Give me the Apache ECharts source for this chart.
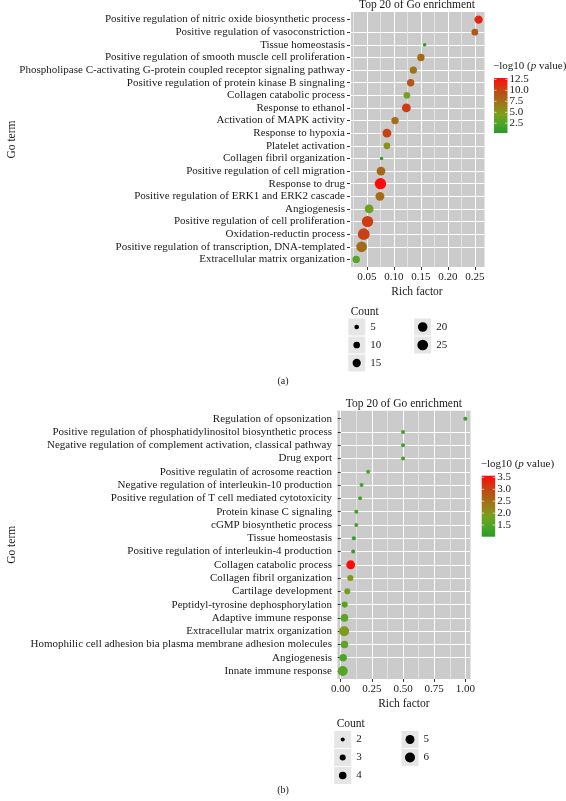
<!DOCTYPE html>
<html><head><meta charset="utf-8">
<script src="https://cdn.jsdelivr.net/npm/echarts@6/dist/echarts.min.js"></script>
<style>html,body{margin:0;padding:0;background:#fff}#c{width:566px;height:801px}</style>
</head><body><div id="c"></div>
<script>
// ---------- Panel (a) data ----------
const termsA = [
  "Positive regulation of nitric oxide biosynthetic process",
  "Positive regulation of vasoconstriction",
  "Tissue homeostasis",
  "Positive regulation of smooth muscle cell proliferation",
  "Phospholipase C-activating G-protein coupled receptor signaling pathway",
  "Positive regulation of protein kinase B singnaling",
  "Collagen catabolic process",
  "Response to ethanol",
  "Activation of MAPK activity",
  "Response to hypoxia",
  "Platelet activation",
  "Collagen fibril organization",
  "Positive regulation of cell migration",
  "Response to drug",
  "Positive regulation of ERK1 and ERK2 cascade",
  "Angiogenesis",
  "Positive regulation of cell proliferation",
  "Oxidation-reductin process",
  "Positive regulation of transcription, DNA-templated",
  "Extracellular matrix organization"
];
const richA  = [0.257,0.250,0.157,0.150,0.136,0.131,0.124,0.123,0.102,0.087,0.087,0.077,0.076,0.075,0.074,0.054,0.051,0.044,0.040,0.030];
const countA = [15,10,3,12,12,12,10,17,12,17,10,3,17,28,17,17,28,30,25,12];
const logpA  = [11.5,8.8,0.8,7.8,7.2,9.0,4.5,10.5,7.5,10.2,5.5,1.0,8.0,12.8,7.8,4.0,10.5,10.2,7.8,2.8];
const xTicksA = [0.05,0.10,0.15,0.20,0.25];
const countBreaksA = [5,10,15,20,25];
const colorBreaksA = [2.5,5.0,7.5,10.0,12.5];

// ---------- Panel (b) data ----------
const termsB = [
  "Regulation of opsonization",
  "Positive regulation of phosphatidylinositol biosynthetic process",
  "Negative regulation of complement activation, classical pathway",
  "Drug export",
  "Positive regulatin of acrosome reaction",
  "Negative regulation of interleukin-10 production",
  "Positive regulation of T cell mediated cytotoxicity",
  "Protein kinase C signaling",
  "cGMP biosynthetic process",
  "Tissue homeostasis",
  "Positive regulation of interleukin-4 production",
  "Collagen catabolic process",
  "Collagen fibril organization",
  "Cartilage development",
  "Peptidyl-tyrosine dephosphorylation",
  "Adaptive immune response",
  "Extracellular matrix organization",
  "Homophilic cell adhesion bia plasma membrane adhesion molecules",
  "Angiogenesis",
  "Innate immune response"
];
const richB  = [1.00,0.50,0.50,0.50,0.22,0.167,0.155,0.125,0.125,0.105,0.10,0.08,0.077,0.053,0.032,0.03,0.027,0.03,0.019,0.016];
const countB = [2,2,2,2,2,2,2,2,2,2,2,5,3,3,3,4,6,4,4,6];
const logpB  = [1.2,1.3,1.3,1.3,1.4,1.3,1.4,1.3,1.3,1.1,1.1,3.57,2.0,1.75,1.55,1.6,1.95,1.6,1.45,1.55];
const xTicksB = [0.00,0.25,0.50,0.75,1.00];
const countBreaksB = [2,3,4,5,6];
const colorBreaksB = [1.5,2.0,2.5,3.0,3.5];

// ---------- styling / layout ----------
const FONT = '"Liberation Serif", "DejaVu Serif", serif';
const FS = 11;
const TXT = '#1a1a1a';
const PANEL_BG = '#cbcbcb';
const MAJ = '#ffffff', MIN = '#e4e4e4';
const GRAD = ['#2a9a2a','#4aa626','#78a01e','#9a7e18','#ad5c16','#d23812','#ff0a0a'];

const sizeA = c => Math.sqrt(Math.max(4.62 * c - 1.1, 4));
const sizeB = c => Math.sqrt(Math.max(21 * c - 26, 4));

const gA = {left:350, top:12, width:134, height:255, xmin:0.0185, xmax:0.267, minor:0.025, major:0.05};
const gB = {left:337, top:410.7, width:133.7, height:268.3, xmin:-0.03, xmax:1.043, minor:0.125, major:0.25};
const cbA = {x:494, y:78, w:13.5, h:55, min:0.3, max:12.8};
const cbB = {x:481.7, y:475.7, w:13.5, h:61, min:1.01, max:3.57};

const isMult = (v, step) => Math.abs(v / step - Math.round(v / step)) < 1e-6;

function xAxes(g, gi, splitColors, ticks) {
  return [
    {type:'value', gridIndex:gi, position:'bottom', min:g.xmin, max:g.xmax,
     minInterval:g.minor, maxInterval:g.minor,
     axisLine:{show:false}, axisTick:{show:false}, axisLabel:{show:false},
     splitLine:{show:true, lineStyle:{color:splitColors, width:1}}},
    {type:'value', gridIndex:gi, position:'bottom', min:g.xmin, max:g.xmax,
     minInterval:g.major, maxInterval:g.major,
     axisLine:{show:false},
     axisTick:{show:true, length:3, customValues:ticks, lineStyle:{color:'#333', width:1}},
     axisLabel:{show:true, margin:5, customValues:ticks, fontFamily:FONT, fontSize:FS, color:TXT,
       formatter: v => (ticks.some(t => Math.abs(t - v) < 1e-6)) ? v.toFixed(2) : ''},
     splitLine:{show:false}}
  ];
}
function yAxis(terms, gi) {
  const idx = terms.map((t, i) => i);
  return {type:'value', gridIndex:gi, min:-0.6, max:terms.length - 0.4, inverse:true,
    minInterval:1, maxInterval:1,
    axisLine:{show:false},
    axisTick:{show:true, length:3, customValues:idx, lineStyle:{color:'#333', width:1}},
    axisLabel:{show:true, margin:5, customValues:idx, fontFamily:FONT, fontSize:FS, color:TXT,
      formatter: v => (isMult(v, 1) && v >= 0 && v < terms.length) ? terms[Math.round(v)] : ''},
    splitLine:{show:true, showMinLine:false, showMaxLine:false, lineStyle:{color:MAJ, width:1}}};
}

const graphics = [];
function txt(x, y, text, opt) {
  graphics.push(Object.assign({type:'text', x, y, silent:true,
    style:Object.assign({text, fill:TXT, font:FS + 'px ' + FONT, align:'left', verticalAlign:'middle'}, (opt && opt.style) || {})},
    opt && opt.rotation !== undefined ? {rotation:opt.rotation} : {}));
}
function panelDecor(g, title, cb, cbBreaks, countBreaks, sizeFn, leg) {
  const cx = g.left + g.width / 2;
  txt(cx, g.top - 7, title, {style:{align:'center', font:'11.5px ' + FONT}});
  txt(cx, g.top + g.height + 25, 'Rich factor', {style:{align:'center', font:'11.5px ' + FONT}});
  txt(12, g.top + g.height / 2, 'Go term', {rotation:Math.PI / 2, style:{align:'center', font:'11.5px ' + FONT}});
  // colour bar
  graphics.push({type:'rect', silent:true, shape:{x:cb.x, y:cb.y, width:cb.w, height:cb.h},
    style:{fill:{type:'linear', x:0, y:1, x2:0, y2:0,
      colorStops:GRAD.map((c, i) => ({offset:i / (GRAD.length - 1), color:c}))}}});
  graphics.push({type:'text', x:cb.x - 1, y:cb.y - 12, silent:true, style:{
    text:'{n|\u2212log10 (}{i|p}{n| value)}', verticalAlign:'middle', align:'left',
    rich:{n:{fontFamily:FONT, fontSize:FS, fill:TXT}, i:{fontFamily:FONT, fontSize:FS, fontStyle:'italic', fill:TXT}}}});
  cbBreaks.forEach(v => {
    const y = cb.y + (cb.max - v) / (cb.max - cb.min) * cb.h;
    txt(cb.x + cb.w + 2, y, v.toFixed(1));
    graphics.push({type:'line', silent:true, z:100, shape:{x1:cb.x, y1:y, x2:cb.x + 2.5, y2:y}, style:{stroke:'rgba(255,255,255,0.8)', lineWidth:0.8}});
    graphics.push({type:'line', silent:true, z:100, shape:{x1:cb.x + cb.w - 2.5, y1:y, x2:cb.x + cb.w, y2:y}, style:{stroke:'rgba(255,255,255,0.8)', lineWidth:0.8}});
  });
  // count legend
  txt(leg.x - 6, leg.y - 15.5, 'Count', {style:{font:'11.5px ' + FONT}});
  countBreaks.forEach((c, i) => {
    const col = i < 3 ? 0 : 1;
    const row = i < 3 ? i : i - 3;
    const kx = leg.x + col * leg.colGap;
    const ky = leg.y + row * 18;
    graphics.push({type:'rect', silent:true, shape:{x:kx - 8.5, y:ky - 8.5, width:17, height:17}, style:{fill:'#e6e6e6'}});
    graphics.push({type:'circle', silent:true, shape:{cx:kx, cy:ky, r:sizeFn(c) / 2}, style:{fill:'#000'}});
    txt(kx + 13.5, ky, String(c));
  });
}
panelDecor(gA, 'Top 20 of Go enrichment', cbA, colorBreaksA, countBreaksA, sizeA, {x:356.7, y:327, colGap:66});
panelDecor(gB, 'Top 20 of Go enrichment', cbB, colorBreaksB, countBreaksB, sizeB, {x:342.7, y:739.5, colGap:67.3});
txt(283, 381, '(a)', {style:{align:'center', font:'10px ' + FONT}});
txt(283, 790, '(b)', {style:{align:'center', font:'10px ' + FONT}});

const chart = echarts.init(document.getElementById('c'), null, {renderer:'canvas'});
chart.setOption({
  animation:false,
  backgroundColor:'#ffffff',
  grid:[
    {left:gA.left, top:gA.top, width:gA.width, height:gA.height, show:true, backgroundColor:PANEL_BG, borderWidth:0, containLabel:false},
    {left:gB.left, top:gB.top, width:gB.width, height:gB.height, show:true, backgroundColor:PANEL_BG, borderWidth:0, containLabel:false}
  ],
  xAxis:[].concat(xAxes(gA, 0, [MAJ, MIN], xTicksA), xAxes(gB, 1, [MIN, MAJ], xTicksB)),
  yAxis:[yAxis(termsA, 0), yAxis(termsB, 1)],
  visualMap:[
    {type:'continuous', seriesIndex:0, dimension:3, min:cbA.min, max:cbA.max, inRange:{color:GRAD}, show:false},
    {type:'continuous', seriesIndex:1, dimension:3, min:cbB.min, max:cbB.max, inRange:{color:GRAD}, show:false}
  ],
  series:[
    {type:'scatter', xAxisIndex:0, yAxisIndex:0,
     data:termsA.map((t, i) => [richA[i], i, countA[i], logpA[i]]),
     symbolSize: d => sizeA(d[2]), itemStyle:{opacity:1}},
    {type:'scatter', xAxisIndex:2, yAxisIndex:1,
     data:termsB.map((t, i) => [richB[i], i, countB[i], logpB[i]]),
     symbolSize: d => sizeB(d[2]), itemStyle:{opacity:1}}
  ],
  graphic:graphics
});
</script></body></html>
